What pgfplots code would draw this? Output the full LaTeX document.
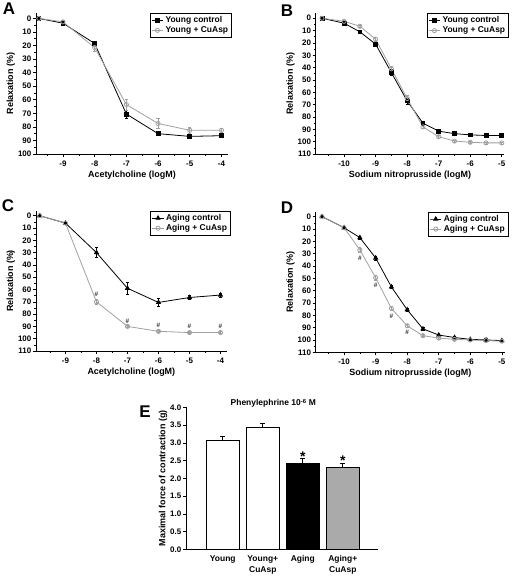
\documentclass[border=0pt]{standalone}
\usepackage{fontspec}
\setmainfont{Liberation Sans}
\usepackage{pgfplots}
\pgfplotsset{compat=1.18}
\definecolor{lg}{RGB}{160,160,160}
\definecolor{barg}{RGB}{170,170,170}
\pgfplotsset{
  panel/.style={
    scale only axis, clip=false,
    axis x line*=bottom, axis y line*=left,
    y dir=reverse,
    tick align=outside, major tick length=3bp, minor tick length=1.6bp,
    every tick/.style={black, line width=0.6pt},
    axis line style={line width=0.8pt},
    ticklabel style={font=\bfseries\fontsize{8}{9}\selectfont},
    yticklabel style={inner sep=1.5pt},
    label style={font=\bfseries\fontsize{9}{10}\selectfont},
    ylabel style={yshift=-2pt},
    xlabel style={yshift=2pt},
    /pgf/number format/assume math mode=true,
    ylabel={Relaxation (\%)},
    ymin=-4,
    legend cell align=left,
    legend style={font=\bfseries\fontsize{8.5}{9.5}\selectfont, draw=black, line width=0.6pt,
      inner sep=1.2pt, row sep=-1.5pt, anchor=north east},
    legend image code/.code={\draw[mark repeat=2,mark phase=2] plot coordinates {(0cm,0cm)(0.2cm,0cm)(0.4cm,0cm)};},
    error bars/error bar style={line width=0.6pt},
    error bars/error mark options={rotate=90, mark size=1.6bp, line width=0.6pt},
  },
  blk/.style={black, line width=0.8pt, mark options={solid, fill=black}},
  gry/.style={lg, line width=0.8pt, mark=o, mark size=2.1bp, mark options={solid, fill=white, draw=lg}},
  hash/.style={draw=none, mark=none, forget plot, nodes near coords={\#}, nodes near coords align=center,
    every node near coord/.append style={font=\bfseries\fontsize{6.5}{7}\selectfont, text=black!80, inner sep=0pt}},
}
\begin{document}
\begin{tikzpicture}
\path[use as bounding box] (0,0) rectangle (515bp,-576bp);
% panel letters
\node[font=\bfseries\fontsize{17}{18}\selectfont] at (9bp,-9bp) {A};
\node[font=\bfseries\fontsize{17}{18}\selectfont] at (287bp,-11bp) {B};
\node[font=\bfseries\fontsize{17}{18}\selectfont] at (8bp,-206bp) {C};
\node[font=\bfseries\fontsize{17}{18}\selectfont] at (287bp,-208bp) {D};
\node[font=\bfseries\fontsize{17}{18}\selectfont] at (145bp,-412bp) {E};

% ---------------- A
\begin{axis}[panel, at={(131.9bp,-83.5bp)}, anchor=center,
  width=191.8bp, height=141bp,
  xmin=-9.85, xmax=-3.8, ymax=100,
  xtick={-9,-8,...,-4}, minor xtick={-9.5,-8.5,...,-4.5},
  ytick={0,10,...,100}, minor ytick={5,15,...,95},
  xlabel={Acetylcholine (logM)},
  legend style={at={(1.02,1.0)}},
]
\addplot[blk, mark=square*, mark size=1.9bp, error bars/.cd, y dir=both, y explicit] coordinates {
 (-9.76,0) +- (0,0) (-9,3.5) +- (0,0.8) (-8,18.5) +- (0,1.5) (-7,70.5) +- (0,3) (-6,85) +- (0,1.5) (-5,87) +- (0,1.2) (-4,86.5) +- (0,1.2)};
\addlegendentry{Young control}
\addplot[gry, error bars/.cd, y dir=both, y explicit] coordinates {
 (-9.76,0) +- (0,0) (-9,2.5) +- (0,0.8) (-8,21.5) +- (0,2.5) (-7,63.5) +- (0,4) (-6,77.5) +- (0,3.5) (-5,82.5) +- (0,2) (-4,82.5) +- (0,1.5)};
\addlegendentry{Young + CuAsp}
\end{axis}

% ---------------- B
\begin{axis}[panel, at={(410bp,-83.65bp)}, anchor=center,
  width=188.6bp, height=140.7bp,
  xmin=-10.9, xmax=-4.92, ymax=110,
  xtick={-10,-9,...,-5}, minor xtick={-10.5,-9.5,...,-5.5},
  ytick={0,10,...,110}, minor ytick={5,15,...,105},
  xlabel={Sodium nitroprusside (logM)},
  legend style={at={(1.023,1.0)}},
]
\addplot[blk, mark=square*, mark size=1.9bp, error bars/.cd, y dir=both, y explicit] coordinates {
 (-10.7,0) +- (0,0) (-10,4) +- (0,0.8) (-9.5,11) +- (0,1) (-9,21) +- (0,1.5) (-8.5,44) +- (0,2.5) (-8,67) +- (0,2.5)
 (-7.5,85) +- (0,1.5) (-7,91.5) +- (0,1.5) (-6.5,93.5) +- (0,1.5) (-6,94.5) +- (0,1.5) (-5.5,95) +- (0,1.5) (-5,95) +- (0,1.5)};
\addlegendentry{Young control}
\addplot[gry, error bars/.cd, y dir=both, y explicit] coordinates {
 (-10.7,0) +- (0,0) (-10,2.5) +- (0,0.8) (-9.5,6.5) +- (0,1) (-9,17) +- (0,1.5) (-8.5,41) +- (0,2) (-8,65) +- (0,2.5)
 (-7.5,88) +- (0,1) (-7,96) +- (0,1) (-6.5,99.5) +- (0,0.8) (-6,100.5) +- (0,0.8) (-5.5,101) +- (0,0.8) (-5,101) +- (0,0.8)};
\addlegendentry{Young + CuAsp}
\end{axis}

% ---------------- C
\begin{axis}[panel, at={(131.35bp,-280.9bp)}, anchor=center,
  width=190.7bp, height=140.2bp,
  xmin=-9.95, xmax=-3.8, ymax=110,
  xtick={-9,-8,...,-4}, minor xtick={-9.5,-8.5,...,-4.5},
  ytick={0,10,...,110}, minor ytick={5,15,...,105},
  xlabel={Acetylcholine (logM)},
  legend style={at={(1.02,1.0)}},
]
\addplot[blk, mark=triangle*, mark size=2.3bp, error bars/.cd, y dir=both, y explicit] coordinates {
 (-9.83,0) +- (0,0) (-9,6) +- (0,0.8) (-8,30) +- (0,4) (-7,59) +- (0,5) (-6,70.5) +- (0,3) (-5,66.5) +- (0,1.5) (-4,64.5) +- (0,1.5)};
\addlegendentry{Aging control}
\addplot[gry, error bars/.cd, y dir=both, y explicit] coordinates {
 (-9.83,0) +- (0,0) (-9,6) +- (0,0.8) (-8,70) +- (0,2) (-7,90) +- (0,1) (-6,94) +- (0,1) (-5,95) +- (0,0.8) (-4,95) +- (0,0.8)};
\addlegendentry{Aging + CuAsp}
\addplot[hash] coordinates {(-8,63.5) (-7,85.6) (-6,89.4) (-5,90.2) (-4,90.2)};
\end{axis}

% ---------------- D
\begin{axis}[panel, at={(410.35bp,-282bp)}, anchor=center,
  width=189.3bp, height=140.6bp,
  xmin=-10.9, xmax=-4.9, ymax=110,
  xtick={-10,-9,...,-5}, minor xtick={-10.5,-9.5,...,-5.5},
  ytick={0,10,...,110}, minor ytick={5,15,...,105},
  xlabel={Sodium nitroprusside (logM)},
  legend style={at={(1.017,1.0)}},
]
\addplot[blk, mark=triangle*, mark size=2.3bp, error bars/.cd, y dir=both, y explicit] coordinates {
 (-10.7,0) +- (0,0) (-10,9) +- (0,1) (-9.5,17) +- (0,1) (-9,33.5) +- (0,1.5) (-8.5,57) +- (0,1.5) (-8,75.5) +- (0,1.5)
 (-7.5,91) +- (0,1) (-7,96) +- (0,1) (-6.5,98) +- (0,1) (-6,99.5) +- (0,1) (-5.5,100) +- (0,1) (-5,100.5) +- (0,1)};
\addlegendentry{Aging control}
\addplot[gry, error bars/.cd, y dir=both, y explicit] coordinates {
 (-10.7,0) +- (0,0) (-10,9) +- (0,1) (-9.5,27) +- (0,2) (-9,49.5) +- (0,2) (-8.5,74.5) +- (0,1.5) (-8,88.5) +- (0,1)
 (-7.5,96.5) +- (0,0.8) (-7,98.5) +- (0,0.8) (-6.5,99.5) +- (0,0.8) (-6,100) +- (0,0.8) (-5.5,100.5) +- (0,0.8) (-5,101) +- (0,0.8)};
\addlegendentry{Aging + CuAsp}
\addplot[hash] coordinates {(-9.5,33.5) (-9,55.5) (-8.5,80.5) (-8,94)};
\end{axis}

% ---------------- E
\begin{axis}[scale only axis, clip=false, at={(282bp,-478.3bp)}, anchor=center,
  width=192bp, height=142bp,
  axis x line*=bottom, axis y line*=left,
  xmin=0.08, xmax=4.88, ymin=0, ymax=4,
  tick align=outside, major tick length=3bp,
  every tick/.style={black, line width=0.6pt},
  axis line style={line width=0.8pt},
  ticklabel style={font=\bfseries\fontsize{8}{9}\selectfont},
  yticklabel style={inner sep=1.5pt},
  label style={font=\bfseries\fontsize{9}{10}\selectfont},
  ylabel style={yshift=-2pt},
  /pgf/number format/assume math mode=true,
  ytick={0,0.5,...,4}, yticklabel style={/pgf/number format/.cd, fixed, fixed zerofill, precision=1},
  xtick={1,2,3,4}, xticklabels={Young,{Young+\\CuAsp},Aging,{Aging+\\CuAsp}},
  xticklabel style={align=center, font=\bfseries\fontsize{8.5}{11}\selectfont},
  x tick style={draw=none},
  ylabel={Maximal force of contraction (g)},
  title={Phenylephrine 10\textsuperscript{-6} M},
  title style={font=\bfseries\fontsize{8.5}{9}\selectfont, at={(0.455,1.0)}, anchor=center, yshift=-2pt},
  error bars/error bar style={line width=0.7pt},
  error bars/error mark options={rotate=90, mark size=2.5bp, line width=0.7pt},
]
\addplot[ybar, bar width=33.3bp, bar shift=0pt, fill=white, draw=black, line width=0.8pt,
  error bars/.cd, y dir=plus, y explicit] coordinates {(1,3.08) +- (0,0.11)};
\addplot[ybar, bar width=33.3bp, bar shift=0pt, fill=white, draw=black, line width=0.8pt,
  error bars/.cd, y dir=plus, y explicit] coordinates {(2,3.44) +- (0,0.1)};
\addplot[ybar, bar width=33.3bp, bar shift=0pt, fill=black, draw=black, line width=0.8pt,
  error bars/.cd, y dir=plus, y explicit] coordinates {(3,2.43) +- (0,0.12)};
\addplot[ybar, bar width=33.3bp, bar shift=0pt, fill=barg, draw=black, line width=0.8pt,
  error bars/.cd, y dir=plus, y explicit] coordinates {(4,2.31) +- (0,0.11)};
\addplot[draw=none, mark=none, nodes near coords={*}, nodes near coords align=center,
  every node near coord/.append style={font=\bfseries\fontsize{14}{14}\selectfont}] coordinates {(3,2.61) (4,2.49)};
\end{axis}
\end{tikzpicture}
\end{document}
